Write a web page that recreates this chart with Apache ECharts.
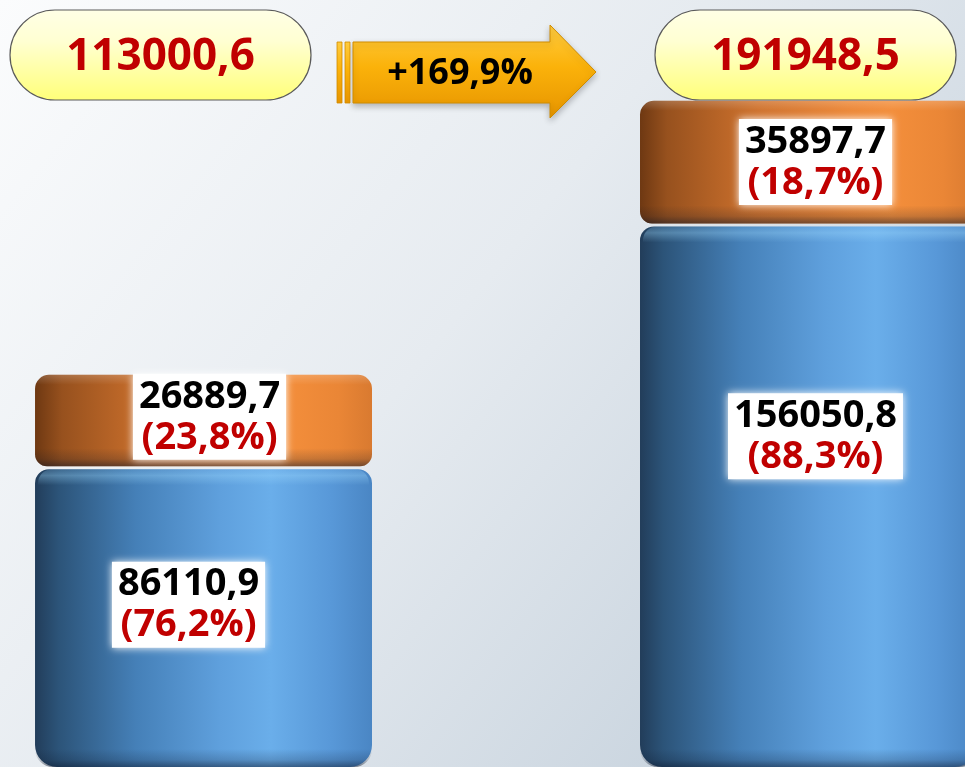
<!DOCTYPE html>
<html><head><meta charset="utf-8">
<script src="https://cdn.jsdelivr.net/npm/echarts@6/dist/echarts.min.js"></script>
<style>html,body{margin:0;padding:0;}#c{width:965px;height:767px;}</style>
</head><body><div id="c"></div>
<script>
// ---- data ----
const categories = ['I', 'II'];
const blueValues = [86110.9, 156050.8];
const orangeValues = [26889.7, 35897.7];
const bluePct = ['76,2%', '88,3%'];
const orangePct = ['23,8%', '18,7%'];
const totals = [113000.6, 191948.5];
const growthLabel = '+169,9%';

// ---- layout / style ----
const BAR_W = 0.557;
const FONT_LBL = 'bold 38px "Open Sans"';
const FONT_TOT = 'bold 44px "Open Sans"';
const RED = '#c00000';
const LABEL_LAYOUT = {
  blue: { dx: [-15, 7], fy: [0.455, 0.388] },
  orange: { dx: [6, 7], fy: [0.46, 0.5] }
};
const fmt = v => v.toFixed(1).replace('.', ',');
const mctx = document.createElement('canvas').getContext('2d');
function tw(t, f) { mctx.font = f; return mctx.measureText(t).width; }

const G = echarts.graphic;
const blueGrad = () => new G.LinearGradient(0, 0, 1, 0, [
  { offset: 0, color: '#223d5a' }, { offset: 0.07, color: '#2c5479' },
  { offset: 0.3, color: '#4580b8' }, { offset: 0.55, color: '#5fa0dd' },
  { offset: 0.7, color: '#6aaeea' }, { offset: 0.88, color: '#5898d8' },
  { offset: 1, color: '#4a86c4' }]);
const orangeGrad = () => new G.LinearGradient(0, 0, 1, 0, [
  { offset: 0, color: '#6e3812' }, { offset: 0.08, color: '#97511e' },
  { offset: 0.35, color: '#cf722d' }, { offset: 0.62, color: '#ec8737' },
  { offset: 0.75, color: '#f38e3b' }, { offset: 0.9, color: '#ea8636' },
  { offset: 1, color: '#d97a30' }]);

function makeRender(kind) {
  return function (params, api) {
    const i = params.dataIndex;
    const xv = api.value(0), v = api.value(1), base = api.value(2);
    const top = api.coord([xv, base + v]);
    const bot = api.coord([xv, base]);
    const w = api.size([BAR_W, 0])[0];
    const cx = top[0], x0 = cx - w / 2;
    let yTop = top[1], yBot = bot[1];
    if (kind === 'orange') yBot -= 2; else yTop += 1;
    const h = yBot - yTop;
    const children = [];
    const rTop = 14, rBot = kind === 'blue' && base === 0 ? 22 : 12;
    children.push({ type: 'rect', shape: { x: x0, y: yTop, width: w, height: h, r: [rTop, rTop, rBot, rBot] },
      style: { fill: kind === 'blue' ? blueGrad() : orangeGrad() } });
    // bottom shading
    children.push({ type: 'rect', shape: { x: x0, y: yBot - 18, width: w, height: 18, r: [0, 0, rBot, rBot] },
      style: { fill: new G.LinearGradient(0, 0, 0, 1, [
        { offset: 0, color: 'rgba(10,20,40,0)' }, { offset: 0.6, color: 'rgba(10,20,40,0.18)' },
        { offset: 1, color: 'rgba(10,20,40,0.5)' }]) } });
    // top rim
    if (kind === 'blue') {
      children.push({ type: 'rect', shape: { x: x0 + 3, y: yTop, width: w - 6, height: 16, r: [rTop, rTop, 0, 0] },
        style: { fill: new G.LinearGradient(0, 0, 0, 1, [
          { offset: 0, color: 'rgba(150,210,250,0.15)' }, { offset: 0.4, color: 'rgba(160,220,255,0.35)' },
          { offset: 1, color: 'rgba(160,220,255,0)' }]) } });
    } else {
      children.push({ type: 'rect', shape: { x: x0 + 2, y: yTop, width: w - 4, height: 10, r: [rTop, rTop, 0, 0] },
        style: { fill: new G.LinearGradient(0, 0, 0, 1, [
          { offset: 0, color: 'rgba(255,255,255,0.18)' }, { offset: 1, color: 'rgba(255,255,255,0)' }]) } });
    }
    // label
    const L = LABEL_LAYOUT[kind];
    const lx = cx + L.dx[i], ly = yTop + h * L.fy[i];
    const t1 = fmt(v);
    const t2 = '(' + (kind === 'blue' ? bluePct[i] : orangePct[i]) + ')';
    const bw = Math.max(tw(t1, FONT_LBL), tw(t2, FONT_LBL)) + 12;
    const bh = 86;
    children.push({ type: 'rect', shape: { x: lx - bw / 2, y: ly - bh / 2, width: bw, height: bh },
      style: { fill: '#ffffff', shadowBlur: 8, shadowColor: 'rgba(255,255,255,1)' } });
    children.push({ type: 'text', style: { text: t1, x: lx, y: ly - 20, font: FONT_LBL, fill: '#000',
      textAlign: 'center', textVerticalAlign: 'middle' } });
    children.push({ type: 'text', style: { text: t2, x: lx, y: ly + 21, font: FONT_LBL, fill: RED,
      textAlign: 'center', textVerticalAlign: 'middle' } });
    return { type: 'group', children };
  };
}

const blueData = blueValues.map((v, i) => [i, v, 0]);
const orangeData = orangeValues.map((v, i) => [i, v, blueValues[i]]);

const pillFill = () => new G.LinearGradient(0, 0, 0, 1, [
  { offset: 0, color: '#ffffe6' }, { offset: 0.35, color: '#ffffd2' }, { offset: 1, color: '#ffff78' }]);
function pill(x, total) {
  return [
    { type: 'rect', shape: { x: x, y: 10, width: 301, height: 90, r: 45 },
      style: { fill: pillFill(), stroke: '#5a5a5a', lineWidth: 1.2 }, z: 10 },
    { type: 'text', x: x + 150.5, y: 57, style: { text: fmt(total), font: FONT_TOT, fill: RED,
      textAlign: 'center', textVerticalAlign: 'middle',
      shadowBlur: 4, shadowColor: 'rgba(0,0,0,0.35)', shadowOffsetX: 2, shadowOffsetY: 2 }, z: 11 }
  ];
}
const arrowFill = () => new G.LinearGradient(0, 0, 0, 1, [
  { offset: 0, color: '#ffcc40' }, { offset: 0.45, color: '#fbb20a' }, { offset: 1, color: '#e69400' }]);

const chart = echarts.init(document.getElementById('c'), null, { renderer: 'canvas' });
chart.setOption({
  animation: false,
  grid: { left: 0, right: 0, top: 0, bottom: 0 },
  xAxis: { type: 'value', min: -0.3364, max: 1.2587, show: false },
  yAxis: { type: 'value', min: 0, max: 221000, show: false },
  graphic: [
    { type: 'rect', z: -100, silent: true, shape: { x: 0, y: 0, width: 965, height: 767 },
      style: { fill: new G.LinearGradient(0, 0, 1, 1, [
        { offset: 0, color: '#fbfcfd' }, { offset: 0.45, color: '#e6ebf0' }, { offset: 1, color: '#bccad7' }]) } },
    ...pill(10, totals[0]),
    ...pill(655, totals[1]),
    { type: 'polygon', z: 10, shape: { points: [[353, 42], [550, 42], [550, 25], [596, 72], [550, 118], [550, 103], [353, 103]] },
      style: { fill: arrowFill(), stroke: '#d08c00', lineWidth: 1, shadowBlur: 6, shadowColor: 'rgba(0,0,0,0.25)', shadowOffsetY: 3 } },
    { type: 'rect', z: 10, shape: { x: 337, y: 42, width: 5, height: 61 }, style: { fill: arrowFill(), stroke: '#d08c00', lineWidth: 0.8 } },
    { type: 'rect', z: 10, shape: { x: 345, y: 42, width: 5, height: 61 }, style: { fill: arrowFill(), stroke: '#d08c00', lineWidth: 0.8 } },
    { type: 'text', z: 11, x: 460, y: 74, style: { text: growthLabel, font: 'bold 36px "Open Sans"', fill: '#000',
      textAlign: 'center', textVerticalAlign: 'middle' } }
  ],
  series: [
    { type: 'custom', name: 'blue', renderItem: makeRender('blue'), data: blueData, encode: { x: 0, y: 1 }, z: 2 },
    { type: 'custom', name: 'orange', renderItem: makeRender('orange'), data: orangeData, encode: { x: 0, y: 1 }, z: 2 }
  ]
});
</script></body></html>
